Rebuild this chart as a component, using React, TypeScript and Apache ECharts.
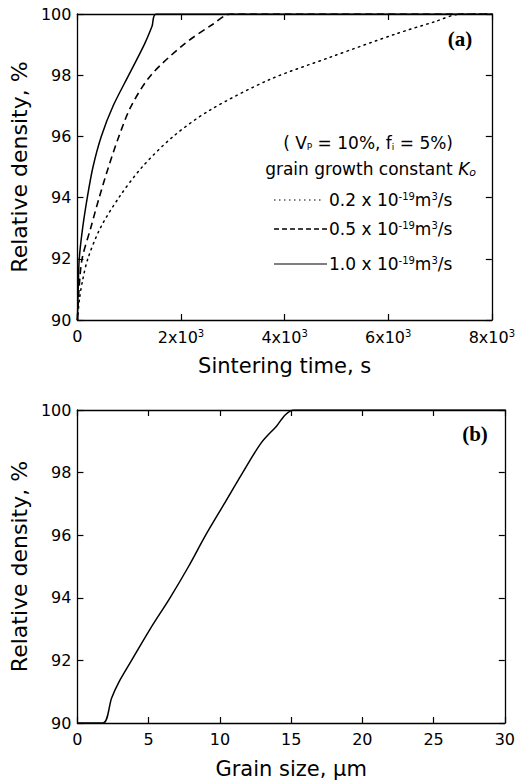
import React, { useEffect, useRef } from "react";
import * as echarts from "echarts";

// Panel (a): sintering time (s) vs relative density (%)
const timeK02 = [0, 40, 100, 200, 440, 800, 1250, 1850, 2550, 3700, 4900, 6150, 6900, 7400, 8000];
const densK02 = [90, 90.7, 91.3, 92, 93, 94, 95, 96, 96.85, 97.85, 98.6, 99.35, 99.75, 100, 100];
const timeK05 = [0, 30, 90, 255, 420, 600, 800, 1040, 1420, 2050, 2600, 2960, 8000];
const densK05 = [90, 91, 92, 93, 94, 95, 96, 97, 98, 99, 99.65, 100, 100];
const timeK10 = [0, 15, 35, 100, 190, 300, 460, 690, 990, 1290, 1440, 1520, 8000];
const densK10 = [90, 91, 92, 93, 94, 95, 96, 97, 98, 99, 99.6, 100, 100];

// Panel (b): grain size (um) vs relative density (%)
const grainSize = [0, 1.8, 2.4, 2.9, 3.8, 5.1, 6.5, 7.8, 9.0, 10.3, 11.6, 12.9, 14.0, 14.6, 15.2, 30];
const grainDens = [90, 90, 90.8, 91.3, 92, 93, 94, 95, 96, 97, 98, 98.95, 99.5, 99.85, 100, 100];

const timeTicks = ["0", "2x10{sup|3}", "4x10{sup|3}", "6x10{sup|3}", "8x10{sup|3}"];
const legendLabels = ["0.2", "0.5", "1.0"];

const FONT = "DejaVu Sans, Liberation Sans, Arial, sans-serif";
const SERIF = "Liberation Serif, Times New Roman, serif";

function pairs(xs: number[], ys: number[]) {
  return xs.map((x, i) => [x, ys[i]]);
}

const tick = { show: true, inside: true, length: 6, lineStyle: { color: "#000", width: 1.2 } };
const line = { show: true, onZero: false, lineStyle: { color: "#000", width: 1.3 } };
const lblStyle = { color: "#000", fontFamily: FONT, fontSize: 16 };

export default function App() {
  const ref = useRef<HTMLDivElement>(null);
  useEffect(() => {
    if (!ref.current) return;
    const chart = echarts.init(ref.current, undefined, { renderer: "svg" });
    const supRich = { sup: { fontSize: 10, verticalAlign: "top", fontFamily: FONT, color: "#000", padding: [0, 0, 8, 0] } };
    const mkX = (gi: number, min: number, max: number, interval: number, pos: string, labels: boolean, name?: string, fmt?: any) => ({
      type: "value",
      gridIndex: gi,
      position: pos,
      min,
      max,
      interval,
      axisLine: line,
      axisTick: tick,
      splitLine: { show: false },
      axisLabel: labels
        ? { show: true, margin: 8, ...lblStyle, formatter: fmt, rich: supRich }
        : { show: false },
      name: name || "",
      nameLocation: "middle",
      nameGap: 35,
      nameTextStyle: { color: "#000", fontFamily: FONT, fontSize: 21 },
    });
    const mkY = (gi: number, pos: string, labels: boolean, name?: string) => ({
      type: "value",
      gridIndex: gi,
      position: pos,
      min: 90,
      max: 100,
      interval: 2,
      axisLine: line,
      axisTick: tick,
      splitLine: { show: false },
      axisLabel: labels ? { show: true, margin: 6, ...lblStyle } : { show: false },
      name: name || "",
      nameLocation: "middle",
      nameGap: 36,
      nameTextStyle: { color: "#000", fontFamily: FONT, fontSize: 22 },
    });

    const legendY = [200, 229, 264];
    const dashes: any[] = [[1.5, 3.5], [5, 3], null];
    const legendGraphics: any[] = [];
    legendLabels.forEach((l, i) => {
      legendGraphics.push({
        type: "line",
        shape: { x1: 274, y1: legendY[i], x2: i === 0 ? 322 : 327, y2: legendY[i] },
        style: { stroke: "#000", lineWidth: i === 1 ? 1.6 : 1.2, lineDash: dashes[i] || undefined },
      });
      legendGraphics.push({
        type: "text",
        x: 329,
        y: legendY[i],
        style: {
          text: l + " x 10{sup|-19}m{sup|3}/s",
          fontFamily: FONT,
          fontSize: 17,
          fill: "#000",
          verticalAlign: "middle",
          rich: { sup: { fontSize: 10, verticalAlign: "top", fontFamily: FONT, fill: "#000" } },
        },
      });
    });

    chart.setOption({
      animation: false,
      backgroundColor: "#fff",
      grid: [
        { left: 63, top: 14, width: 429, height: 306, show: false },
        { left: 68, top: 410, width: 438, height: 316, show: false },
      ],
      xAxis: [
        mkX(0, 0, 8000, 2000, "bottom", true, "Sintering time, s", (v: number) => timeTicks[Math.round(v / 2000)]),
        mkX(0, 0, 8000, 2000, "top", false),
        mkX(1, 0, 30, 5, "bottom", true, "Grain size, \u00b5m", (v: number) => String(v)),
        mkX(1, 0, 30, 5, "top", false),
      ],
      yAxis: [
        mkY(0, "left", true, "Relative density, %"),
        mkY(0, "right", false),
        mkY(1, "left", true, "Relative density, %"),
        mkY(1, "right", false),
      ],
      series: [
        {
          type: "line", xAxisIndex: 0, yAxisIndex: 0, symbol: "none", smooth: 0.3, data: pairs(timeK02, densK02),
          lineStyle: { color: "#000", width: 1.5, type: [1.5, 4.5], cap: "round" },
        },
        {
          type: "line", xAxisIndex: 0, yAxisIndex: 0, symbol: "none", smooth: 0.3, data: pairs(timeK05, densK05),
          lineStyle: { color: "#000", width: 1.6, type: [7, 4.5] },
        },
        {
          type: "line", xAxisIndex: 0, yAxisIndex: 0, symbol: "none", smooth: 0.3, data: pairs(timeK10, densK10),
          lineStyle: { color: "#000", width: 1.5 },
        },
        {
          type: "line", xAxisIndex: 2, yAxisIndex: 2, symbol: "none", smooth: 0.3, data: pairs(grainSize, grainDens),
          lineStyle: { color: "#000", width: 1.5 },
        },
      ],
      graphic: [
        {
          type: "text", x: 453, y: 143,
          style: {
            text: "( V{sub|P} = 10%, f{sub|i} = 5%)", fontFamily: FONT, fontSize: 17, fill: "#000",
            align: "right", verticalAlign: "middle",
            rich: { sub: { fontSize: 9, verticalAlign: "bottom", fontFamily: FONT, fill: "#000" } },
          },
        },
        {
          type: "text", x: 476, y: 169,
          style: {
            text: "grain growth constant {it|K}{sub|o}", fontFamily: FONT, fontSize: 17, fill: "#000",
            align: "right", verticalAlign: "middle",
            rich: {
              it: { fontStyle: "italic", fontSize: 17, fontFamily: FONT, fill: "#000" },
              sub: { fontSize: 11, fontStyle: "italic", verticalAlign: "bottom", fontFamily: FONT, fill: "#000" },
            },
          },
        },
        ...legendGraphics,
        {
          type: "text", x: 460, y: 39,
          style: { text: "(a)", fontFamily: SERIF, fontWeight: "bold", fontSize: 21, fill: "#000", align: "center", verticalAlign: "middle" },
        },
        {
          type: "text", x: 475, y: 434,
          style: { text: "(b)", fontFamily: SERIF, fontWeight: "bold", fontSize: 21, fill: "#000", align: "center", verticalAlign: "middle" },
        },
      ],
    });
    return () => chart.dispose();
  }, []);
  return <div ref={ref} style={{ position: "absolute", left: 0, top: 0, width: 518, height: 780 }} />;
}
